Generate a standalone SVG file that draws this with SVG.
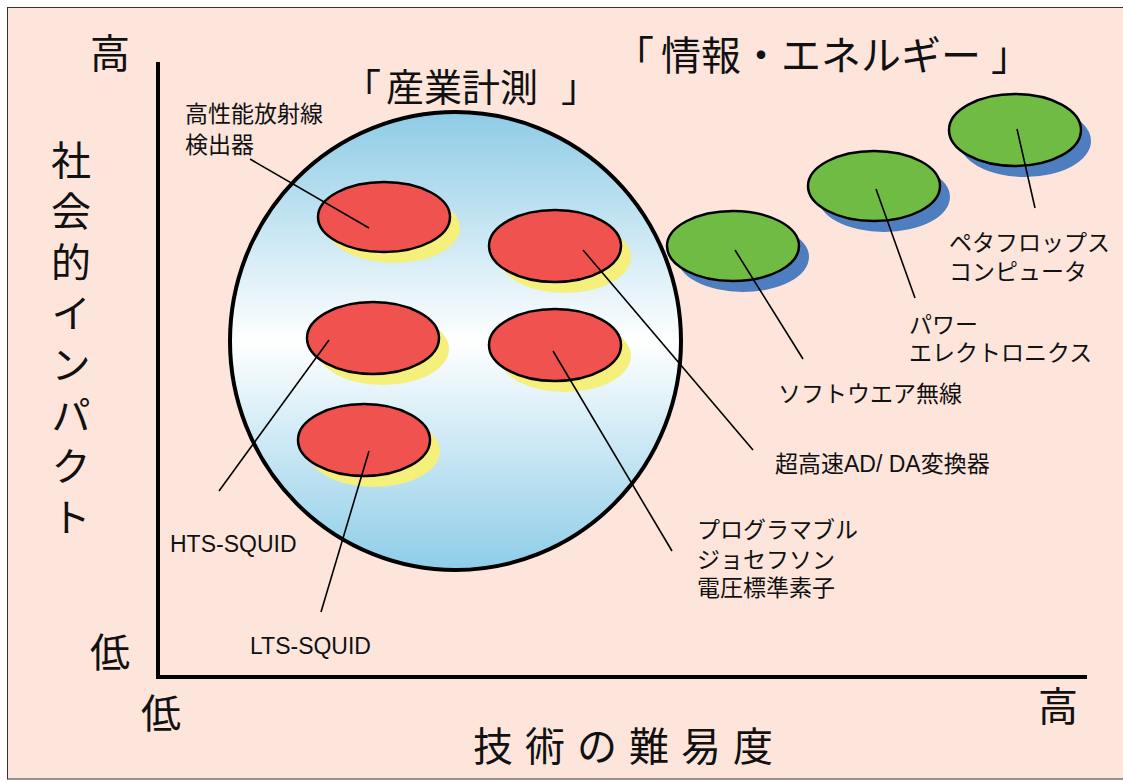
<svg xmlns="http://www.w3.org/2000/svg" width="1123" height="780" viewBox="0 0 1123 780">
<defs>
<linearGradient id="sky" x1="0" y1="0" x2="0" y2="1">
<stop offset="0" stop-color="#8ecbe6"/>
<stop offset="0.5" stop-color="#ffffff"/>
<stop offset="1" stop-color="#8ecde8"/>
</linearGradient>
<style>
.lbl{font-family:"Liberation Sans","Noto Sans CJK JP",sans-serif;font-size:23px;fill:#111}
.big{font-family:"Noto Sans CJK JP","Liberation Sans",sans-serif;font-size:40px;fill:#111}
.vt{font-family:"Noto Sans CJK JP","Liberation Sans",sans-serif;font-size:40px;fill:#111;writing-mode:vertical-rl;text-orientation:upright;letter-spacing:11px}
.ttl{font-family:"Noto Sans CJK JP","Liberation Sans",sans-serif;font-size:38px;fill:#111}
.red{fill:#f0534f;stroke:#000;stroke-width:2.5}
.yel{fill:#f5ef7c}
.grn{fill:#70bb44;stroke:#000;stroke-width:2.5}
.blu{fill:#4f7ec0}
.ldr{stroke:#000;stroke-width:1.6;fill:none}
.axis{stroke:#000;stroke-width:4;fill:none}
</style>
</defs>
<rect x="0" y="0" width="1123" height="780" fill="#ffffff"/>
<rect x="7.5" y="7.5" width="1120" height="771.5" fill="#fde5dc" stroke="#333" stroke-width="1"/>

<g id="axes">
<path class="axis" d="M158 62 V677 H1087"/>
<text class="big" x="110" y="68" text-anchor="middle">高</text>
<text class="big" x="110" y="667" text-anchor="middle">低</text>
<text class="big" x="161" y="728" text-anchor="middle">低</text>
<text class="big" x="1058" y="721" text-anchor="middle">高</text>
<text class="big" x="473" y="761" letter-spacing="12">技術の難易度</text>
<text class="vt" x="71" y="140">社会的インパクト</text>
</g>

<g id="industry">
<ellipse cx="455.5" cy="341" rx="225.5" ry="229" fill="url(#sky)" stroke="#000" stroke-width="4"/>
<text class="ttl" x="343" y="101">「</text>
<text class="ttl" x="386" y="101">産業計測</text>
<text class="ttl" x="561" y="101">」</text>
</g>

<g id="info-energy-title">
<text class="big" x="614" y="70">「</text>
<text class="big" x="661" y="70">情報・エネルギー</text>
<text class="big" x="991" y="70">」</text>
</g>

<g id="node-detector">
<ellipse class="yel" cx="394" cy="228" rx="66" ry="35"/>
<ellipse class="red" cx="384" cy="217" rx="66" ry="35"/>
<text class="lbl" x="185" y="122">高性能放射線</text>
<text class="lbl" x="185" y="153">検出器</text>
</g>
<g id="node-adda">
<ellipse class="yel" cx="565" cy="257" rx="66" ry="36"/>
<ellipse class="red" cx="555" cy="246" rx="66" ry="36"/>
<text class="lbl" x="775" y="472">超高速AD/ DA変換器</text>
</g>
<g id="node-hts">
<ellipse class="yel" cx="383" cy="349" rx="66" ry="36"/>
<ellipse class="red" cx="373" cy="338" rx="66" ry="36"/>
<text class="lbl" x="170" y="552" font-size="22.5">HTS-SQUID</text>
</g>
<g id="node-josephson">
<ellipse class="yel" cx="565" cy="356" rx="66" ry="36"/>
<ellipse class="red" cx="555" cy="345" rx="66" ry="36"/>
<text class="lbl" x="697" y="538">プログラマブル</text>
<text class="lbl" x="697" y="568">ジョセフソン</text>
<text class="lbl" x="697" y="596">電圧標準素子</text>
</g>
<g id="node-lts">
<ellipse class="yel" cx="374" cy="451" rx="66" ry="36"/>
<ellipse class="red" cx="364" cy="440" rx="66" ry="36"/>
<text class="lbl" x="250" y="654" font-size="22.5">LTS-SQUID</text>
</g>
<g id="node-radio">
<ellipse class="blu" cx="743" cy="257" rx="66" ry="35"/>
<ellipse class="grn" cx="733" cy="246" rx="66" ry="35"/>
<text class="lbl" x="778" y="402">ソフトウエア無線</text>
</g>
<g id="node-power">
<ellipse class="blu" cx="884" cy="197" rx="66" ry="35"/>
<ellipse class="grn" cx="874" cy="186" rx="66" ry="35"/>
<text class="lbl" x="909" y="333">パワー</text>
<text class="lbl" x="909" y="361">エレクトロニクス</text>
</g>
<g id="node-peta">
<ellipse class="blu" cx="1025" cy="141" rx="66" ry="36"/>
<ellipse class="grn" cx="1015" cy="130" rx="66" ry="36"/>
<text class="lbl" x="949" y="251">ペタフロップス</text>
<text class="lbl" x="949" y="280">コンピュータ</text>
</g>

<g id="connectors">
<line class="ldr" x1="250" y1="159" x2="369" y2="228"/>
<line class="ldr" x1="219" y1="491" x2="329" y2="340"/>
<line class="ldr" x1="369" y1="451" x2="321" y2="612"/>
<line class="ldr" x1="553" y1="351" x2="672" y2="551"/>
<line class="ldr" x1="583" y1="250" x2="753" y2="450"/>
<line class="ldr" x1="735" y1="250" x2="803" y2="359"/>
<line class="ldr" x1="876" y1="189" x2="915" y2="298"/>
<line class="ldr" x1="1017" y1="129" x2="1035" y2="208"/>
</g>
</svg>
